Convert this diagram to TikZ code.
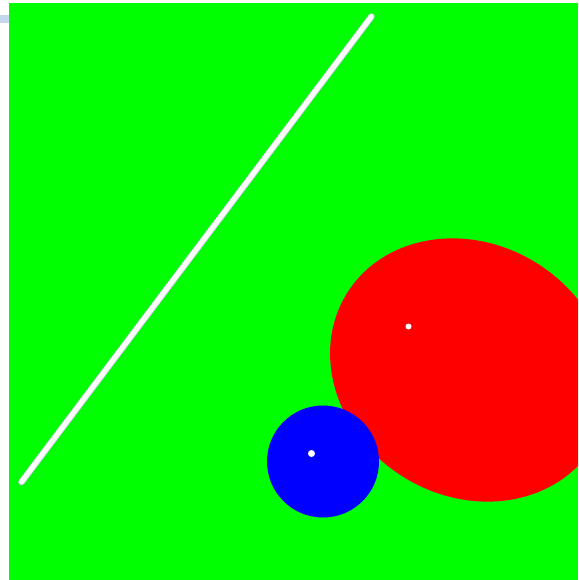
\documentclass[tikz,border=0pt]{standalone}
\definecolor{bggreen}{RGB}{0,255,0}
\definecolor{stripblue}{RGB}{198,216,240}
\definecolor{pured}{RGB}{255,0,0}
\definecolor{pureblue}{RGB}{0,0,255}
\definecolor{edgelav}{RGB}{200,190,235}
\tikzset{
  dot/.style={fill=white},
  stickedge/.style={draw=edgelav,line width=6.5pt,line cap=round},
  stick/.style={draw=white,line width=5pt,line cap=round}
}
\begin{document}
\begin{tikzpicture}[x=1pt,y=-1pt]
\useasboundingbox (0,0) rectangle (578,580);
\fill[stripblue] (0,15) rectangle (9,23);
\begin{scope}
\clip (9,3) rectangle (578,580);
\fill[bggreen] (9,3) rectangle (578,580);
\fill[pured] (470,370) ellipse[x radius=145,y radius=126,rotate=-32];
\fill[pureblue] (323,461.5) circle[radius=56];
\end{scope}
\coordinate (a) at (21.5,482);
\coordinate (b) at (371.5,16.5);
\draw[stickedge] (a) -- (b);
\draw[stick] (a) -- (b);
\fill[dot] (408.5,326.5) circle[radius=3];
\fill[dot] (311.5,453.5) circle[radius=3.5];
\end{tikzpicture}
\end{document}
